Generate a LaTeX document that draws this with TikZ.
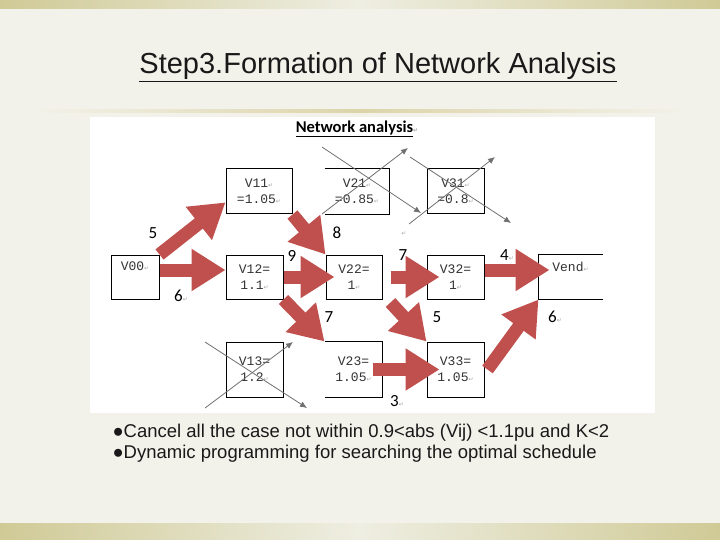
\documentclass[tikz,border=0pt]{standalone}
\usepackage{fontspec}
\setmainfont{Liberation Sans}
\newfontfamily\calfont{Carlito}
\newfontfamily\boxfont{Liberation Mono}
\newfontfamily\symfont{DejaVu Sans}
\usetikzlibrary{calc, arrows.meta}

\definecolor{slidebg}{RGB}{243,242,234}
\definecolor{bandkhaki}{RGB}{208,202,150}
\definecolor{bandlight}{RGB}{238,238,226}
\definecolor{ruletan}{RGB}{220,212,168}
\definecolor{arrowred}{RGB}{192,80,77}
\definecolor{strikegray}{RGB}{112,112,112}

\newcommand{\retmark}{{\symfont\fontsize{6}{6}\selectfont\textcolor{gray!70}{↵}}}

\begin{document}
\begin{tikzpicture}[
        x=1pt, y=-1pt,
        vbox/.style={draw, line width=1pt, rectangle, minimum width=57pt, minimum height=44pt, inner sep=1pt, font=\boxfont\fontsize{13}{16}\selectfont, text=black!80, align=center},
        openbox/.style={vbox, draw=none},
        redarrow/.style={-{Triangle[length=34pt, width=40pt]}, line width=13pt, arrowred},
        strike/.style={-{Latex[length=7pt, width=6pt]}, line width=0.8pt, strikegray},
        weight/.style={font=\calfont\fontsize{17}{17}\selectfont, text=black}
    ]
    \useasboundingbox (0,0) rectangle (720,540);

    % ==================== Slide background ====================
    \fill[slidebg] (0,0) rectangle (720,540);
    \shade[left color=bandkhaki, right color=bandlight] (0,0) rectangle (360,9);
    \shade[left color=bandlight, right color=bandkhaki] (360,0) rectangle (720,9);
    \shade[left color=bandkhaki, right color=bandlight] (0,523) rectangle (360,540);
    \shade[left color=bandlight, right color=bandkhaki] (360,523) rectangle (720,540);
    \shade[left color=slidebg, right color=ruletan] (30,110) rectangle (360,113);
    \shade[left color=ruletan, right color=slidebg] (360,110) rectangle (690,113);

    \node[font=\fontsize{29}{33}\selectfont, text=black!90] (title) at (378,67) {\underline{Step3.Formation of Network Analysis}};

    % ==================== Network panel ====================
    \fill[white] (90,117) rectangle (655,413);
    \node[font=\calfont\bfseries\fontsize{16.5}{18}\selectfont] (nettitle) at (357,129) {\underline{Network analysis}\retmark};

    % Boxes
    \node[vbox, minimum width=48pt] (v00) at (135,277) {V00\retmark\\\strut};
    \node[vbox, minimum width=66pt, minimum height=45pt] (v11) at (259,191.5) {V11\retmark\\=1.05\retmark};
    \node[openbox, minimum width=64pt, minimum height=45pt] (v21) at (357,191.5) {V21\retmark\\=0.85\retmark};
    \node[vbox, minimum height=45pt] (v31) at (455.5,191.5) {V31\retmark\\=0.8\retmark};
    \node[vbox] (v12) at (254.5,277) {V12=\\1.1\retmark};
    \node[vbox, minimum width=56pt] (v22) at (354,277) {V22=\\1\retmark};
    \node[vbox] (v32) at (455.5,277) {V32=\\1\retmark};
    \node[openbox, minimum width=63pt] (vend) at (570.5,277) {Vend\retmark\\\strut};
    \node[vbox, minimum height=55pt] (v13) at (254.5,369.5) {V13=\\1.2\retmark};
    \node[openbox, minimum height=55pt] (v23) at (353.5,369.5) {V23=\\1.05\retmark};
    \node[vbox, minimum height=55pt] (v33) at (455.5,369.5) {V33=\\1.05\retmark};

    % open sides
    \draw[line width=1pt] (v21.north west) -- (v21.north east) -- (v21.south east) -- (v21.south west);
    \draw[line width=1pt] (v23.north west) -- (v23.north east) -- (v23.south east) -- (v23.south west);
    \draw[line width=1pt] (vend.north east) -- (vend.north west) -- (vend.south west) -- (vend.south east);

    % Paths
    \draw[redarrow] (v00.north east) -- (v11.198);
    \draw[redarrow] ([yshift=7pt]v00.east) -- ([yshift=7pt]v12.west);
    \draw[redarrow] (v11.south east) -- (v22.north west);
    \draw[redarrow] (v12.east) -- ([xshift=9pt]v22.west);
    \draw[redarrow] (v12.south east) -- (v23.north west);
    \draw[redarrow] ([xshift=8pt]v22.east) -- ([xshift=13pt]v32.west);
    \draw[redarrow] ([shift={(8pt,-3pt)}]v22.south east) -- (v33.north west);
    \draw[redarrow] ([yshift=7pt]v32.east) -- ([shift={(11pt,7pt)}]vend.west);
    \draw[redarrow] ([xshift=-10pt]v23.east) -- ([xshift=13pt]v33.west);
    \draw[redarrow] ([xshift=3pt]v33.east) -- (vend.south west);

    % Weights
    \node[weight] (w1) at (153,233) {5};
    \node[weight] (w2) at (181,296) {6\retmark};
    \node[weight] (w3) at (337,233) {8};
    \node[weight] (w4) at (292,256) {9};
    \node[weight] (w5) at (329,317) {7};
    \node[weight] (w6) at (403,255) {7};
    \node[weight] (w7) at (437,317) {5};
    \node[weight] (w8) at (507,255) {4\retmark};
    \node[weight] (w9) at (397,401) {3\retmark};
    \node[weight] (w10) at (555,317) {6\retmark};
    \node (stray) at (404,234) {\retmark};

    % Cancelled cases
    \draw[strike] (322,147) -- (421,213);
    \draw[strike] (322,214) -- (408,148);
    \draw[strike] (410,157) -- (511,223);
    \draw[strike] (409,224) -- (495,157);
    \draw[strike] (205,342) -- (307,408);
    \draw[strike] (205,408) -- (293,342);

    % ==================== Notes ====================
    \node[anchor=west, align=left, font=\fontsize{18.5}{21}\selectfont, text=black!90] (notes) at (109,443) {●Cancel all the case not within 0.9<abs (Vij) <1.1pu and K<2\\●Dynamic programming for searching the optimal schedule};

\end{tikzpicture}
\end{document}
